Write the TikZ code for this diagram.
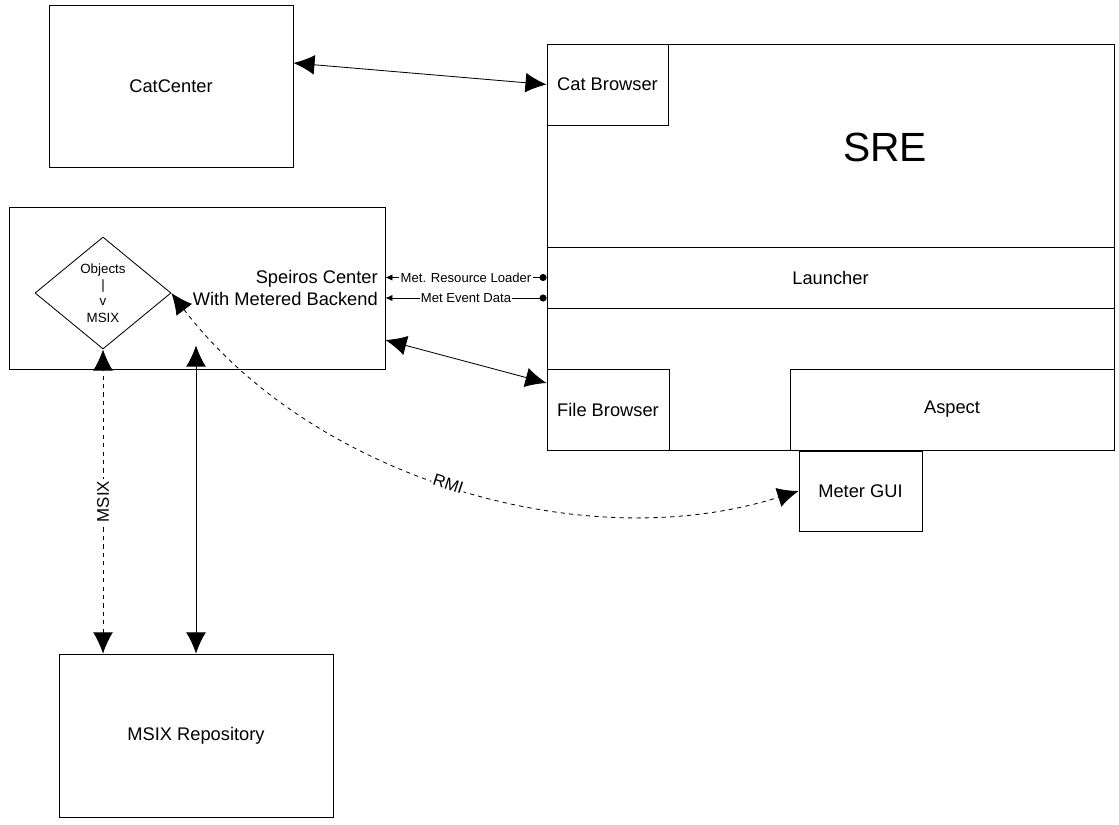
\documentclass[tikz,border=0pt]{standalone}
\usepackage{fontspec}
\setmainfont{Liberation Sans}
\usetikzlibrary{arrows.meta,calc,shapes.geometric}
\newcommand{\unitpx}{0.025cm}
\tikzset{
  blk/.style 2 args={draw,line width=0.6pt,inner sep=0pt,
    minimum width=#1*\unitpx,minimum height=#2*\unitpx,
    font=\fontsize{13}{15}\selectfont},
  dblarr/.style={{Latex[length=15pt,width=14pt]}-{Latex[length=15pt,width=14pt]},
    line width=0.6pt},
  sigarr/.style={{Latex[length=5pt,width=4.5pt]}-{Circle[length=5pt]},line width=0.6pt},
  tag/.style={fill=white,inner sep=1pt},
  tagbig/.style={tag,font=\fontsize{12}{14}\selectfont},
  tagsmall/.style={tag,font=\fontsize{9.3}{11}\selectfont}
}
\begin{document}
\begin{tikzpicture}[x=0.025cm,y=-0.025cm]
  \useasboundingbox (0,0) rectangle (1119,824);
  %% Boxes
  \node[blk={244}{162}] (catcenter) at (171,86) {CatCenter};
  \node[blk={567}{406}] (sre) at (830.5,247) {};
  \node[font=\fontsize{29}{34}\selectfont] (sretitle) at (885,147) {SRE};
  \node[blk={121}{81}] (catbrowser) at (607.5,84.5) {Cat Browser};
  \node[blk={567}{61}] (launcher) at (830.5,277.5) {Launcher};
  \node[blk={122}{81}] (filebrowser) at (608,409.5) {File Browser};
  \node[blk={324}{81}] (aspect) at (952,409.5) {Aspect};
  \node[blk={123}{80}] (metergui) at (860.5,491) {Meter GUI};
  \node[blk={376}{162}] (speiros) at (197,288) {};
  \node[anchor=east,align=right,inner sep=0pt,
        font=\fontsize{13}{15}\selectfont] (speirostxt) at (378,288)
       {Speiros Center\\With Metered Backend};
  \node[diamond,draw,line width=0.6pt,inner sep=0pt,aspect=1.2,
        minimum width=136*\unitpx,minimum height=112*\unitpx,align=center,
        font=\fontsize{9.5}{11.5}\selectfont] (objdiam) at (103,293)
       {Objects\\|\\v\\MSIX};
  \node[blk={274}{163}] (msixrepo) at (196,735.5) {MSIX Repository};
  %% Connectors
  \coordinate (evt) at ($(launcher.west)+(0,20.5)$);
  \coordinate (sctip) at ($(speiros.south)+(0,-24)$);
  \draw[dblarr] ($(catcenter.east)+(0,-23)$) -- (catbrowser.west);
  \draw[dblarr] ($(speiros.east)+(0,52)$) -- ($(filebrowser.west)+(0,-26.5)$);
  \draw[sigarr] (speiros.east |- launcher.west)
       -- node[tagsmall]{Met. Resource Loader} (launcher.west);
  \draw[sigarr] (speiros.east |- evt) -- node[tagsmall]{Met Event Data} (evt);
  \draw[dblarr,dashed] (objdiam.south |- msixrepo.north)
       -- node[tagbig,rotate=90]{MSIX} (objdiam.south);
  \draw[dblarr] (msixrepo.north) -- (msixrepo.north |- sctip);
  \draw[dblarr,dashed] (objdiam.east) .. controls (310,475) and (580,560)
       .. node[tagbig,sloped,pos=0.49]{RMI} (metergui.west);
\end{tikzpicture}
\end{document}
